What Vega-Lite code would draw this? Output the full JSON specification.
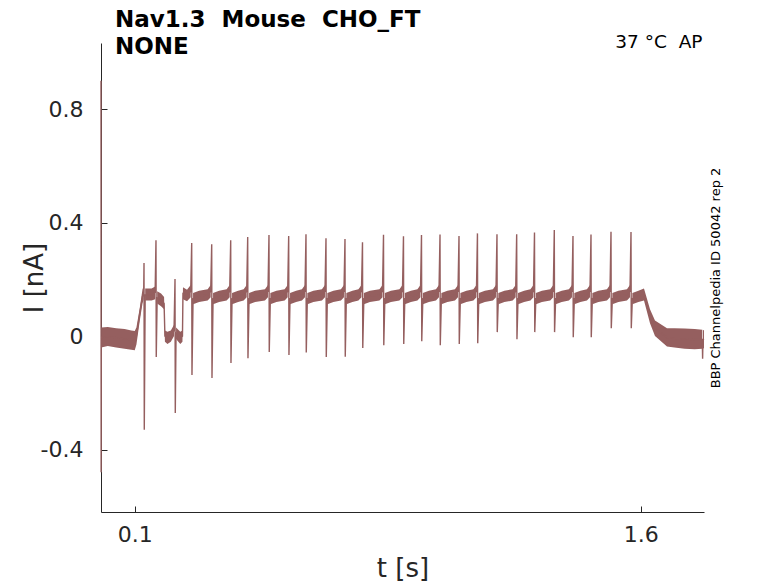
{
"$schema": "https://vega.github.io/schema/vega-lite/v6.json",
"width": 603, "height": 469,
"autosize": {"type": "none"},
"padding": {"left": 101, "top": 43, "right": 74, "bottom": 71},
"background": "white",
"config": {"view": {"stroke": null}, "font": "DejaVu Sans"},
"title": {"text": ["Nav1.3\u00a0 Mouse\u00a0 CHO_FT", "NONE"], "anchor": "start", "frame": "group", "dx": 14, "baseline": "bottom", "lineHeight": 27, "fontSize": 23, "font": "DejaVu Sans", "fontWeight": "bold", "color": "#000000", "offset": -50},
"data": {"values": [
{"t":0,"i":0.9},
{"t":0.0004,"i":-0.48},
{"t":0.0008,"i":-0.005,"lo":-0.04,"hi":0.03},
{"t":0.02,"i":-0.002,"lo":-0.035,"hi":0.032},
{"t":0.045,"i":-0.006,"lo":-0.04,"hi":0.028},
{"t":0.07,"i":-0.01,"lo":-0.045,"hi":0.025},
{"t":0.09,"i":-0.013,"lo":-0.048,"hi":0.02},
{"t":0.1,"i":-0.015,"lo":-0.05,"hi":0.018},
{"t":0.105,"i":0.0,"lo":-0.03,"hi":0.03},
{"t":0.115,"i":0.08,"lo":0.055,"hi":0.1},
{"t":0.123,"i":0.14,"lo":0.115,"hi":0.165},
{"t":0.1265,"i":0.15,"lo":0.13,"hi":0.175},
{"t":0.1275,"i":0.258},
{"t":0.1283,"i":-0.33},
{"t":0.131,"i":0.145,"lo":0.125,"hi":0.168},
{"t":0.15,"i":0.145,"lo":0.125,"hi":0.168},
{"t":0.1605,"i":0.155,"lo":0.13,"hi":0.175},
{"t":0.163,"i":0.338},
{"t":0.1638,"i":-0.074},
{"t":0.1665,"i":0.135,"lo":0.115,"hi":0.158},
{"t":0.178,"i":0.128,"lo":0.105,"hi":0.15},
{"t":0.187,"i":0.115,"lo":0.095,"hi":0.138},
{"t":0.1895,"i":0.0,"lo":-0.02,"hi":0.02},
{"t":0.197,"i":-0.005,"lo":-0.028,"hi":0.015},
{"t":0.207,"i":0.0,"lo":-0.02,"hi":0.02},
{"t":0.2165,"i":0.02,"lo":0.0,"hi":0.04},
{"t":0.2194,"i":0.201},
{"t":0.2202,"i":-0.271},
{"t":0.2225,"i":0.01,"lo":-0.01,"hi":0.03},
{"t":0.235,"i":-0.005,"lo":-0.028,"hi":0.015},
{"t":0.2415,"i":0.0,"lo":-0.02,"hi":0.02},
{"t":0.243,"i":0.15,"lo":0.13,"hi":0.172},
{"t":0.255,"i":0.143,"lo":0.123,"hi":0.163},
{"t":0.2659,"i":0.158,"lo":0.137,"hi":0.18},
{"t":0.2689,"i":0.328},
{"t":0.2697,"i":-0.137},
{"t":0.2729,"i":0.132,"lo":0.112,"hi":0.152},
{"t":0.2909,"i":0.14,"lo":0.12,"hi":0.16},
{"t":0.3162,"i":0.145,"lo":0.125,"hi":0.165},
{"t":0.3252,"i":0.158,"lo":0.137,"hi":0.18},
{"t":0.3282,"i":0.324},
{"t":0.3290,"i":-0.148},
{"t":0.3322,"i":0.132,"lo":0.112,"hi":0.152},
{"t":0.3502,"i":0.14,"lo":0.12,"hi":0.16},
{"t":0.3725,"i":0.145,"lo":0.125,"hi":0.165},
{"t":0.3815,"i":0.158,"lo":0.137,"hi":0.18},
{"t":0.3845,"i":0.338},
{"t":0.3853,"i":-0.095},
{"t":0.3885,"i":0.132,"lo":0.112,"hi":0.152},
{"t":0.4065,"i":0.14,"lo":0.12,"hi":0.16},
{"t":0.4229,"i":0.145,"lo":0.125,"hi":0.165},
{"t":0.4319,"i":0.158,"lo":0.137,"hi":0.18},
{"t":0.4349,"i":0.349},
{"t":0.4357,"i":-0.078},
{"t":0.4389,"i":0.132,"lo":0.112,"hi":0.152},
{"t":0.4569,"i":0.14,"lo":0.12,"hi":0.16},
{"t":0.4860,"i":0.145,"lo":0.125,"hi":0.165},
{"t":0.4950,"i":0.158,"lo":0.137,"hi":0.18},
{"t":0.4980,"i":0.356},
{"t":0.4988,"i":-0.056},
{"t":0.5020,"i":0.132,"lo":0.112,"hi":0.152},
{"t":0.5200,"i":0.14,"lo":0.12,"hi":0.16},
{"t":0.5444,"i":0.145,"lo":0.125,"hi":0.165},
{"t":0.5534,"i":0.158,"lo":0.137,"hi":0.18},
{"t":0.5564,"i":0.353},
{"t":0.5572,"i":-0.067},
{"t":0.5604,"i":0.132,"lo":0.112,"hi":0.152},
{"t":0.5784,"i":0.14,"lo":0.12,"hi":0.16},
{"t":0.5957,"i":0.145,"lo":0.125,"hi":0.165},
{"t":0.6047,"i":0.158,"lo":0.137,"hi":0.18},
{"t":0.6077,"i":0.359},
{"t":0.6085,"i":-0.058},
{"t":0.6117,"i":0.132,"lo":0.112,"hi":0.152},
{"t":0.6297,"i":0.14,"lo":0.12,"hi":0.16},
{"t":0.6550,"i":0.145,"lo":0.125,"hi":0.165},
{"t":0.6640,"i":0.158,"lo":0.137,"hi":0.18},
{"t":0.6670,"i":0.345},
{"t":0.6678,"i":-0.074},
{"t":0.6710,"i":0.132,"lo":0.112,"hi":0.152},
{"t":0.6890,"i":0.14,"lo":0.12,"hi":0.16},
{"t":0.7113,"i":0.145,"lo":0.125,"hi":0.165},
{"t":0.7203,"i":0.158,"lo":0.137,"hi":0.18},
{"t":0.7233,"i":0.342},
{"t":0.7241,"i":-0.073},
{"t":0.7273,"i":0.132,"lo":0.112,"hi":0.152},
{"t":0.7453,"i":0.14,"lo":0.12,"hi":0.16},
{"t":0.7632,"i":0.145,"lo":0.125,"hi":0.165},
{"t":0.7722,"i":0.158,"lo":0.137,"hi":0.18},
{"t":0.7752,"i":0.331},
{"t":0.7760,"i":-0.042},
{"t":0.7792,"i":0.132,"lo":0.112,"hi":0.152},
{"t":0.7972,"i":0.14,"lo":0.12,"hi":0.16},
{"t":0.8255,"i":0.145,"lo":0.125,"hi":0.165},
{"t":0.8345,"i":0.158,"lo":0.137,"hi":0.18},
{"t":0.8375,"i":0.357},
{"t":0.8383,"i":-0.032},
{"t":0.8415,"i":0.132,"lo":0.112,"hi":0.152},
{"t":0.8595,"i":0.14,"lo":0.12,"hi":0.16},
{"t":0.8847,"i":0.145,"lo":0.125,"hi":0.165},
{"t":0.8937,"i":0.158,"lo":0.137,"hi":0.18},
{"t":0.8967,"i":0.352},
{"t":0.8975,"i":-0.028},
{"t":0.9007,"i":0.132,"lo":0.112,"hi":0.152},
{"t":0.9187,"i":0.14,"lo":0.12,"hi":0.16},
{"t":0.9381,"i":0.145,"lo":0.125,"hi":0.165},
{"t":0.9471,"i":0.158,"lo":0.137,"hi":0.18},
{"t":0.9501,"i":0.356},
{"t":0.9509,"i":-0.018},
{"t":0.9541,"i":0.132,"lo":0.112,"hi":0.152},
{"t":0.9721,"i":0.14,"lo":0.12,"hi":0.16},
{"t":0.9930,"i":0.145,"lo":0.125,"hi":0.165},
{"t":1.0020,"i":0.158,"lo":0.137,"hi":0.18},
{"t":1.0050,"i":0.358},
{"t":1.0058,"i":-0.032},
{"t":1.0090,"i":0.132,"lo":0.112,"hi":0.152},
{"t":1.0270,"i":0.14,"lo":0.12,"hi":0.16},
{"t":1.0493,"i":0.145,"lo":0.125,"hi":0.165},
{"t":1.0583,"i":0.158,"lo":0.137,"hi":0.18},
{"t":1.0613,"i":0.353},
{"t":1.0621,"i":-0.028},
{"t":1.0653,"i":0.132,"lo":0.112,"hi":0.152},
{"t":1.0833,"i":0.14,"lo":0.12,"hi":0.16},
{"t":1.1040,"i":0.145,"lo":0.125,"hi":0.165},
{"t":1.1130,"i":0.158,"lo":0.137,"hi":0.18},
{"t":1.1160,"i":0.362},
{"t":1.1168,"i":-0.025},
{"t":1.1200,"i":0.132,"lo":0.112,"hi":0.152},
{"t":1.1380,"i":0.14,"lo":0.12,"hi":0.16},
{"t":1.1619,"i":0.145,"lo":0.125,"hi":0.165},
{"t":1.1709,"i":0.158,"lo":0.137,"hi":0.18},
{"t":1.1739,"i":0.359},
{"t":1.1747,"i":0.014},
{"t":1.1779,"i":0.132,"lo":0.112,"hi":0.152},
{"t":1.1959,"i":0.14,"lo":0.12,"hi":0.16},
{"t":1.2203,"i":0.145,"lo":0.125,"hi":0.165},
{"t":1.2293,"i":0.158,"lo":0.137,"hi":0.18},
{"t":1.2323,"i":0.359},
{"t":1.2331,"i":-0.011},
{"t":1.2363,"i":0.132,"lo":0.112,"hi":0.152},
{"t":1.2543,"i":0.14,"lo":0.12,"hi":0.16},
{"t":1.2731,"i":0.145,"lo":0.125,"hi":0.165},
{"t":1.2821,"i":0.158,"lo":0.137,"hi":0.18},
{"t":1.2851,"i":0.365},
{"t":1.2859,"i":0.014},
{"t":1.2891,"i":0.132,"lo":0.112,"hi":0.152},
{"t":1.3071,"i":0.14,"lo":0.12,"hi":0.16},
{"t":1.3318,"i":0.145,"lo":0.125,"hi":0.165},
{"t":1.3408,"i":0.158,"lo":0.137,"hi":0.18},
{"t":1.3438,"i":0.374},
{"t":1.3446,"i":0.014},
{"t":1.3478,"i":0.132,"lo":0.112,"hi":0.152},
{"t":1.3658,"i":0.14,"lo":0.12,"hi":0.16},
{"t":1.3872,"i":0.145,"lo":0.125,"hi":0.165},
{"t":1.3962,"i":0.158,"lo":0.137,"hi":0.18},
{"t":1.3992,"i":0.353},
{"t":1.4000,"i":-0.004},
{"t":1.4032,"i":0.132,"lo":0.112,"hi":0.152},
{"t":1.4212,"i":0.14,"lo":0.12,"hi":0.16},
{"t":1.4406,"i":0.145,"lo":0.125,"hi":0.165},
{"t":1.4496,"i":0.158,"lo":0.137,"hi":0.18},
{"t":1.4526,"i":0.358},
{"t":1.4534,"i":-0.004},
{"t":1.4566,"i":0.132,"lo":0.112,"hi":0.152},
{"t":1.4746,"i":0.14,"lo":0.12,"hi":0.16},
{"t":1.4999,"i":0.145,"lo":0.125,"hi":0.165},
{"t":1.5089,"i":0.158,"lo":0.137,"hi":0.18},
{"t":1.5119,"i":0.368},
{"t":1.5127,"i":0.028},
{"t":1.5159,"i":0.132,"lo":0.112,"hi":0.152},
{"t":1.5339,"i":0.14,"lo":0.12,"hi":0.16},
{"t":1.5592,"i":0.145,"lo":0.125,"hi":0.165},
{"t":1.5682,"i":0.158,"lo":0.137,"hi":0.18},
{"t":1.5712,"i":0.367},
{"t":1.5720,"i":0.028},
{"t":1.5752,"i":0.132,"lo":0.112,"hi":0.152},
{"t":1.5932,"i":0.14,"lo":0.12,"hi":0.16},
{"t":1.6097,"i":0.145,"lo":0.125,"hi":0.168},
{"t":1.6275,"i":0.07,"lo":0.045,"hi":0.095},
{"t":1.6423,"i":0.028,"lo":0.0,"hi":0.055},
{"t":1.6779,"i":-0.005,"lo":-0.037,"hi":0.028},
{"t":1.70,"i":-0.008,"lo":-0.04,"hi":0.028},
{"t":1.73,"i":-0.01,"lo":-0.045,"hi":0.027},
{"t":1.76,"i":-0.012,"lo":-0.046,"hi":0.025},
{"t":1.7825,"i":-0.012,"lo":-0.045,"hi":0.022},
{"t":1.7835,"i":-0.08},
{"t":1.7845,"i":-0.012,"lo":-0.045,"hi":0.022},
{"t":1.7876,"i":-0.01,"lo":-0.042,"hi":0.02}
]},
"layer": [
{"mark": {"type": "area", "color": "#955f5f", "opacity": 1},
 "encoding": {
  "x": {"field": "t", "type": "quantitative", "scale": {"domain": [0, 1.7876], "nice": false, "zero": false},
        "axis": {"orient": "bottom", "values": [0.1, 1.6], "format": ".2~g", "grid": false, "title": "t [s]", "titleFontSize": 26, "titleFontWeight": "normal", "titleColor": "#262626", "titleX": 301.5, "titleY": 64, "titleBaseline": "alphabetic", "titleAlign": "center", "labelFontSize": 22, "labelColor": "#262626", "labelFont": "DejaVu Sans", "labelPadding": 18, "tickSize": -6, "tickColor": "#262626", "domainColor": "#262626", "labelFlush": false}},
  "y": {"field": "lo", "type": "quantitative", "scale": {"domain": [-0.62, 1.033], "nice": false, "zero": false},
        "axis": {"orient": "left", "values": [-0.4, 0, 0.4, 0.8], "format": ".2~g", "grid": false, "title": "I [nA]", "titleFontSize": 26, "titleFontWeight": "normal", "titleColor": "#262626", "titleX": -59, "titleY": 234.5, "titleBaseline": "alphabetic", "titleAlign": "center", "titleAngle": 270, "labelFontSize": 22, "labelColor": "#262626", "labelPadding": 24, "tickSize": -6, "tickColor": "#262626", "domainColor": "#262626", "labelExpr": "replace(datum.label, '\u2212', '-')", "labelFlush": false}},
  "y2": {"field": "hi"}
 }},
{"mark": {"type": "line", "color": "#955f5f", "strokeWidth": 1.4},
 "encoding": {
  "x": {"field": "t", "type": "quantitative",
        "axis": {"orient": "top", "grid": false, "domain": false, "ticks": false, "labels": false, "title": "37 \u00b0C\u00a0 AP", "titleFontSize": 18.5, "titleFontWeight": "normal", "titleColor": "#000000", "titleX": 601, "titleY": 4, "titleAlign": "right", "titleBaseline": "alphabetic"}},
  "y": {"field": "i", "type": "quantitative",
        "axis": {"orient": "right", "grid": false, "domain": false, "ticks": false, "labels": false, "title": "BBP Channelpedia ID 50042 rep 2", "titleFontSize": 13, "titleFontWeight": "normal", "titleColor": "#000000", "titleX": 15.5, "titleY": 234.5, "titleAngle": 270, "titleAlign": "center", "titleBaseline": "alphabetic"}}
 }}
],
"resolve": {"axis": {"x": "independent", "y": "independent"}}
}
